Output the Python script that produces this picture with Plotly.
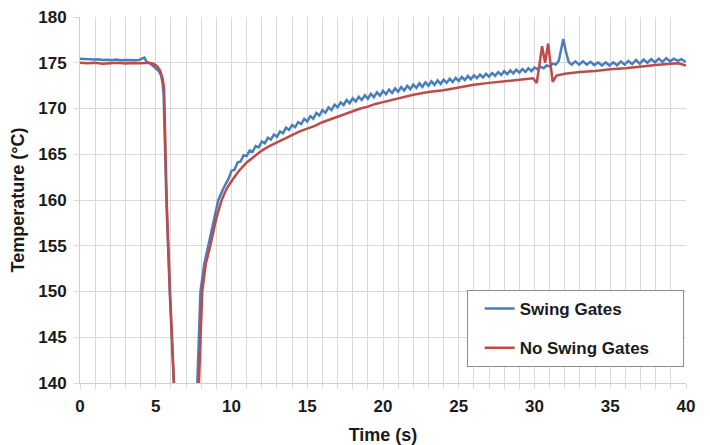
import plotly.graph_objects as go

# ---- data ----
swing_t = [0.0, 0.3, 0.6, 0.9, 1.2, 1.5, 1.8, 2.1, 2.4, 2.7, 3.0, 3.3, 3.6, 3.9, 4.1, 4.25, 4.4, 4.6, 4.85, 5.05,
           5.2, 5.35, 5.45, 5.52, 5.6, 5.7, 5.92, 6.1, 6.3, 6.6, 7.0, 7.4, 7.6, 7.75, 7.95, 8.2, 8.47, 8.8, 9.13, 9.5,
           9.8, 10.0, 10.2, 10.4, 10.6, 10.8, 11.0, 11.2, 11.4, 11.6, 11.8, 12.0, 12.2, 12.4, 12.6, 12.8, 13.0, 13.2,
           13.4, 13.6, 13.8, 14.0, 14.2, 14.4, 14.6, 14.8, 15.0, 15.2, 15.4, 15.6, 15.8, 16.0, 16.2, 16.4, 16.6, 16.8,
           17.0, 17.2, 17.4, 17.6, 17.8, 18.0, 18.2, 18.4, 18.6, 18.8, 19.0, 19.2, 19.4, 19.6, 19.8, 20.0, 20.2, 20.4,
           20.6, 20.8, 21.0, 21.2, 21.4, 21.6, 21.8, 22.0, 22.2, 22.4, 22.6, 22.8, 23.0, 23.2, 23.4, 23.6, 23.8, 24.0,
           24.2, 24.4, 24.6, 24.8, 25.0, 25.2, 25.4, 25.6, 25.8, 26.0, 26.2, 26.4, 26.6, 26.8, 27.0, 27.2, 27.4, 27.6,
           27.8, 28.0, 28.2, 28.4, 28.6, 28.8, 29.0, 29.2, 29.4, 29.6, 29.8, 30.0, 30.2, 30.4, 30.6, 30.8, 31.0, 31.2,
           31.4, 31.6, 31.75, 31.9, 32.05, 32.25, 32.45, 32.7, 32.95, 33.2, 33.45, 33.7, 33.95, 34.2, 34.45, 34.7,
           34.95, 35.2, 35.45, 35.7, 35.95, 36.2, 36.45, 36.7, 36.95, 37.2, 37.45, 37.7, 37.95, 38.2, 38.45, 38.7,
           38.95, 39.2, 39.45, 39.7, 40.0]
swing_temp = [175.45, 175.4, 175.42, 175.35, 175.38, 175.3, 175.32, 175.28, 175.35, 175.27, 175.3, 175.25, 175.28,
              175.3, 175.45, 175.55, 175.1, 174.95, 174.6, 174.3, 174.1, 173.6, 172.8, 171.5, 166.0, 160.0, 150.0,
              140.0, 131.0, 125.0, 122.0, 126.0, 133.0, 140.0, 150.0, 153.0, 155.0, 157.5, 160.0, 161.4, 162.3,
              163.2, 163.3, 164.1, 164.2, 164.9, 164.8, 165.4, 165.3, 165.9, 165.75, 166.4, 166.2, 166.8, 166.6,
              167.15, 166.9, 167.5, 167.3, 167.9, 167.65, 168.2, 167.95, 168.5, 168.3, 168.87, 168.58, 169.17,
              168.88, 169.52, 169.23, 169.82, 169.53, 170.12, 169.83, 170.42, 170.13, 170.67, 170.38, 170.92,
              170.58, 171.12, 170.76, 171.28, 170.92, 171.44, 171.08, 171.6, 171.24, 171.76, 171.4, 171.92, 171.55,
              172.06, 171.69, 172.2, 171.83, 172.34, 171.97, 172.48, 172.11, 172.62, 172.24, 172.74, 172.36, 172.86,
              172.48, 172.97, 172.58, 173.07, 172.68, 173.15, 172.8, 173.25, 172.9, 173.35, 173.0, 173.45, 173.1,
              173.55, 173.2, 173.63, 173.31, 173.71, 173.39, 173.79, 173.47, 173.88, 173.57, 173.98, 173.67, 174.08,
              173.76, 174.16, 173.84, 174.24, 173.92, 174.32, 174.0, 174.4, 174.08, 174.48, 174.3, 174.55, 174.4,
              174.7, 174.6, 174.9, 174.8, 175.2, 176.3, 177.6, 176.4, 175.1, 174.8, 175.15, 174.8, 175.15, 174.8,
              175.1, 174.75, 175.05, 174.7, 175.05, 174.7, 175.05, 174.72, 175.15, 174.8, 175.2, 174.85, 175.3,
              174.9, 175.35, 175.0, 175.4, 175.05, 175.45, 175.1, 175.5, 175.15, 175.45, 175.2, 175.4, 175.05]

noswing_t = [0.0, 0.5, 1.0, 1.5, 2.0, 2.5, 3.0, 3.5, 4.0, 4.5, 4.85, 5.1, 5.3, 5.45, 5.55, 5.65, 5.72, 5.94, 6.12,
             6.3, 6.6, 7.0, 7.4, 7.65, 7.85, 8.07, 8.3, 8.6, 9.0, 9.35, 9.7, 10.1, 10.5, 11.0, 11.5, 12.0, 12.5,
             13.0, 13.5, 14.0, 14.5, 15.0, 15.5, 16.0, 16.5, 17.0, 17.5, 18.0, 18.5, 19.0, 19.5, 20.0, 21.0, 22.0,
             23.0, 24.0, 25.0, 26.0, 27.0, 28.0, 29.0, 29.9, 30.15, 30.5, 30.7, 30.9, 31.2, 31.45, 32.0, 33.0, 34.0,
             35.0, 36.0, 37.0, 38.0, 39.0, 39.5, 40.0]
noswing_temp = [175.0, 174.95, 175.0, 174.9, 174.95, 175.0, 174.92, 174.98, 174.95, 175.0, 174.9, 174.6, 174.1,
                173.3, 172.2, 166.0, 160.0, 150.0, 140.0, 131.0, 125.0, 122.0, 126.0, 133.0, 140.0, 150.0, 153.0,
                155.0, 158.0, 160.0, 161.3, 162.3, 163.2, 164.1, 164.8, 165.4, 165.9, 166.3, 166.7, 167.1, 167.5,
                167.8, 168.1, 168.5, 168.8, 169.1, 169.4, 169.7, 170.0, 170.2, 170.5, 170.7, 171.1, 171.5, 171.8,
                172.0, 172.3, 172.6, 172.8, 173.0, 173.2, 173.3, 172.8, 176.8, 175.0, 177.1, 172.9, 173.6, 173.8,
                174.0, 174.1, 174.3, 174.4, 174.6, 174.75, 174.9, 174.95, 174.7]

series_names = ["Swing Gates", "No Swing Gates"]
series_colors = ["#4a7ebb", "#be4b48"]
x_ticks = [0, 5, 10, 15, 20, 25, 30, 35, 40]
y_ticks = [140, 145, 150, 155, 160, 165, 170, 175, 180]

GRID = "#d9d9d9"
TXT = "#1a1a1a"
FONT = "Liberation Sans, Arial, sans-serif"
PAD = "\u00a0" * 6  # widen legend box to the right like the reference

fig = go.Figure()
fig.add_trace(go.Scatter(x=swing_t, y=swing_temp, mode="lines", name=series_names[0] + PAD,
                         legendgroup="a", line=dict(color=series_colors[0], width=2.5)))
fig.add_trace(go.Scatter(x=noswing_t, y=noswing_temp, mode="lines", name=series_names[1] + PAD,
                         legendgroup="b", line=dict(color=series_colors[1], width=2.5)))

fig.update_layout(
    width=702, height=437,
    margin=dict(l=72, r=24, t=9, b=62),
    paper_bgcolor="white", plot_bgcolor="white",
    font=dict(family=FONT, color=TXT, size=17, weight="bold"),
    legend=dict(
        x=0.638, y=0.254, xanchor="left", yanchor="top",
        bordercolor="#8c8c8c", borderwidth=1, bgcolor="white",
        font=dict(family=FONT, size=17, color=TXT, weight="bold"),
        tracegroupgap=14, indentation=12,
    ),
    xaxis=dict(
        range=[0, 40], tickvals=x_ticks, showgrid=True, gridcolor=GRID, gridwidth=1,
        zeroline=False, showline=True, linecolor="#cfcfcf", linewidth=1, automargin=False,
        ticks="outside", ticklen=5, tickcolor=GRID, ticklabelstandoff=3, ticklabeloverflow="allow",
        minor=dict(dtick=1, showgrid=True, gridcolor=GRID, ticks="outside", ticklen=5, tickcolor=GRID),
        tickfont=dict(family=FONT, size=17, color=TXT, weight="bold"),
        title=dict(text="Time (s)", font=dict(family=FONT, size=18, color=TXT, weight="bold"), standoff=13),
    ),
    yaxis=dict(
        range=[140, 180], tickvals=y_ticks, showgrid=True, gridcolor=GRID, gridwidth=1,
        zeroline=False, showline=True, linecolor="#cfcfcf", linewidth=1, automargin=False,
        ticks="outside", ticklen=5, tickcolor=GRID, ticklabelstandoff=4, ticklabeloverflow="allow",
        tickfont=dict(family=FONT, size=17, color=TXT, weight="bold"),
        title=dict(text="Temperature (°C)", font=dict(family=FONT, size=18, color=TXT, weight="bold"), standoff=10),
    ),
)

fig.write_html("out.html")
